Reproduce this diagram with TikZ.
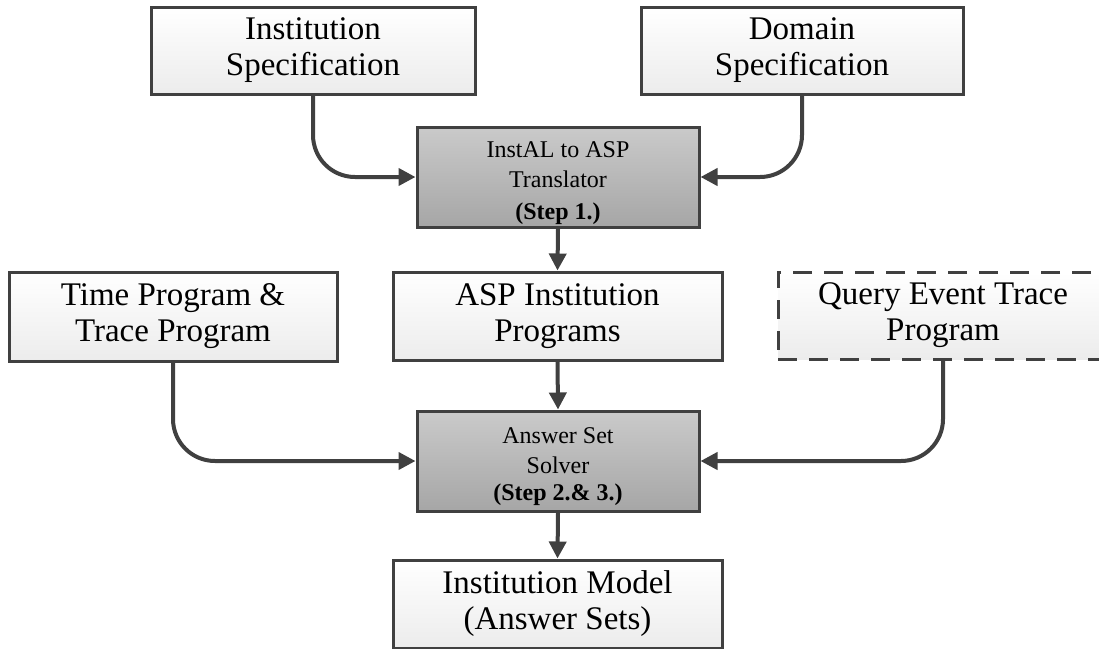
\documentclass[tikz,border=0pt]{standalone}
\usepackage{fontspec}
\setmainfont{Liberation Serif}
\usetikzlibrary{arrows.meta}

\definecolor{edgegray}{RGB}{64,64,64}
\definecolor{lighttop}{RGB}{255,255,255}
\definecolor{lightbot}{RGB}{236,236,236}
\definecolor{darktop}{RGB}{202,202,202}
\definecolor{darkbot}{RGB}{166,166,166}

% strut that lowers the text block of a step box a little
\newcommand{\steplead}{\rule{0pt}{28pt}}

\tikzset{
  databox/.style={draw=edgegray, line width=3pt, top color=lighttop, bottom color=lightbot,
    align=center, inner sep=0pt, font=\fontsize{33}{36}\selectfont},
  procbox/.style={draw=edgegray, line width=3pt, top color=darktop, bottom color=darkbot,
    align=center, inner sep=0pt, font=\fontsize{24}{30}\selectfont},
  flow/.style={draw=edgegray, line width=4pt, rounded corners=42pt,
    -{Triangle[length=17pt,width=17pt]}},
}

\begin{document}
\begin{tikzpicture}[x=1pt,y=-1pt]
\useasboundingbox (0,0) rectangle (1099,648);

% inputs to the translator
\node[databox, minimum width=324pt, minimum height=87pt] (inst) at (313,50.5) {Institution\\Specification};
\node[databox, minimum width=322pt, minimum height=87pt] (dom) at (802,50.5) {Domain\\Specification};

% translation step
\node[procbox, minimum width=282pt, minimum height=100pt] (trans) at (558,177) {\steplead InstAL to ASP\\Translator\\[2pt]\textbf{(Step 1.)}};

% programs fed to the solver
\node[databox, minimum width=328pt, minimum height=89pt] (time) at (173,316.5) {Time Program \&\\Trace Program};
\node[databox, minimum width=329pt, minimum height=88pt] (asp) at (557.5,316) {ASP Institution\\Programs};
\node[databox, dashed, dash pattern=on 19pt off 12pt, minimum width=330pt, minimum height=87pt] (query) at (943,315.5) {Query Event Trace\\Program};

% solving step
\node[procbox, minimum width=282pt, minimum height=100pt] (solver) at (558,461) {\steplead Answer Set\\Solver\\[-3pt]\textbf{(Step 2.\& 3.)}};

% result
\node[databox, minimum width=329pt, minimum height=88pt] (model) at (557.5,604) {Institution Model\\(Answer Sets)};

% connectors
\draw[flow] (inst.south) |- (trans.west);
\draw[flow] (dom.south) |- (trans.east);
\draw[flow] (trans.south) -- (asp.north);
\draw[flow] (asp.south) -- (solver.north);
\draw[flow] (time.south) |- (solver.west);
\draw[flow] (query.south) |- (solver.east);
\draw[flow] (solver.south) -- (model.north);
\end{tikzpicture}
\end{document}
